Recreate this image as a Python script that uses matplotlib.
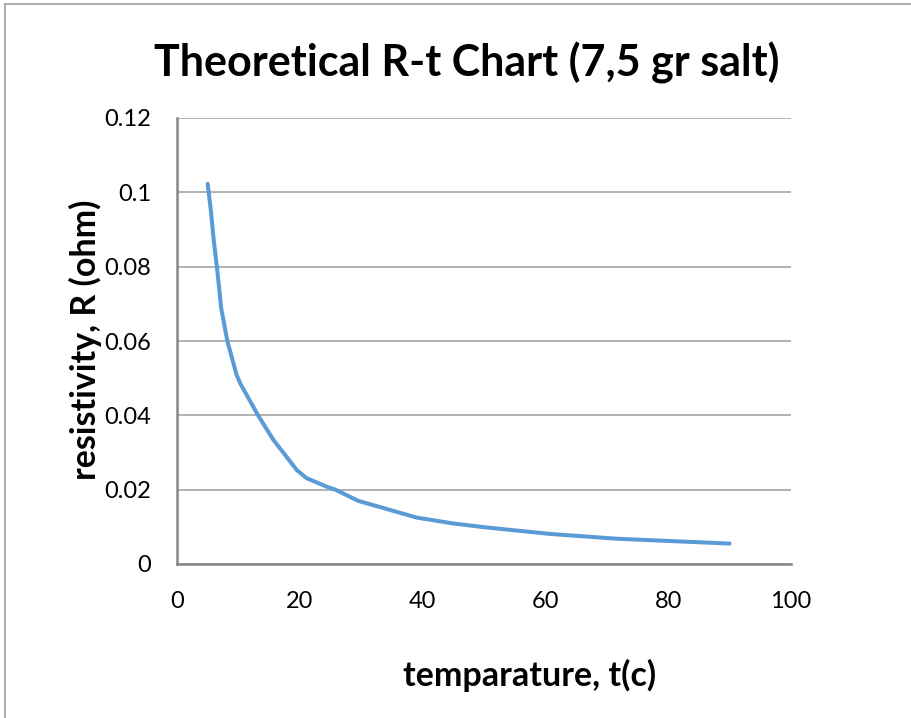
import matplotlib.pyplot as plt
from matplotlib.lines import Line2D

# values
temperature = [5, 5.5, 6.0, 6.5, 7.2, 8.2, 9.7, 10.3, 13.2, 15.7, 19.5, 21.1, 24.4, 25.8, 29.5,
               31.4, 35, 39, 45, 50, 60.7, 71.6, 80, 90]
resistivity = [0.1023, 0.0953, 0.0868, 0.080, 0.0688, 0.060, 0.0509, 0.0486, 0.040, 0.0334, 0.0253,
               0.0231, 0.0208, 0.020, 0.0170, 0.0161, 0.0144, 0.0125, 0.0109, 0.0099, 0.0081,
               0.0068, 0.0062, 0.0055]

x_ticks = [0, 20, 40, 60, 80, 100]
y_ticks = [0, 0.02, 0.04, 0.06, 0.08, 0.1, 0.12]
y_tick_labels = ['0', '0.02', '0.04', '0.06', '0.08', '0.1', '0.12']

plt.rcParams['font.family'] = ['Lato', 'DejaVu Sans']

fig = plt.figure(figsize=(9.12, 7.18), dpi=100)
ax = fig.add_axes([177 / 912, 1 - 564 / 718, (791 - 177) / 912, (564 - 118) / 718])

ax.plot(temperature, resistivity, color='#5B9BD5', lw=2.9, solid_capstyle='round',
        solid_joinstyle='round')

ax.set_xlim(0, 100)
ax.set_ylim(0, 0.12)
ax.set_xticks(x_ticks)
ax.set_yticks(y_ticks)
ax.set_yticklabels(y_tick_labels)
ax.tick_params(axis='both', length=0, labelsize=17, colors='black')
ax.tick_params(axis='y', pad=18.5)
ax.tick_params(axis='x', pad=19.5)
ax.yaxis.grid(True, color='#A6A6A6', lw=1.2)
ax.set_axisbelow(True)

for side in ['top', 'right']:
    ax.spines[side].set_visible(False)
for side in ['left', 'bottom']:
    ax.spines[side].set_color('#868686')
    ax.spines[side].set_linewidth(1.8)

fig.text(467 / 912, 1 - 63 / 718, 'Theoretical R-t Chart (7,5 gr salt)', ha='center', va='center',
         fontsize=31, fontweight='bold')
fig.text(530 / 912, 1 - 675 / 718, 'temparature, t(c)', ha='center', va='center',
         fontsize=24.5, fontweight='bold')
fig.text(85 / 912, 1 - 340 / 718, 'resistivity, R (ohm)', ha='center', va='center',
         fontsize=24.5, fontweight='bold', rotation=90)

# chart area border (only left and top edges show)
fig.add_artist(Line2D([5 / 912, 5 / 912], [0, 1 - 4 / 718], transform=fig.transFigure, color='#A6A6A6', lw=1.3))
fig.add_artist(Line2D([5 / 912, 1], [1 - 4 / 718, 1 - 4 / 718], transform=fig.transFigure, color='#A6A6A6', lw=1.3))

fig.savefig('out.png', dpi=100)
